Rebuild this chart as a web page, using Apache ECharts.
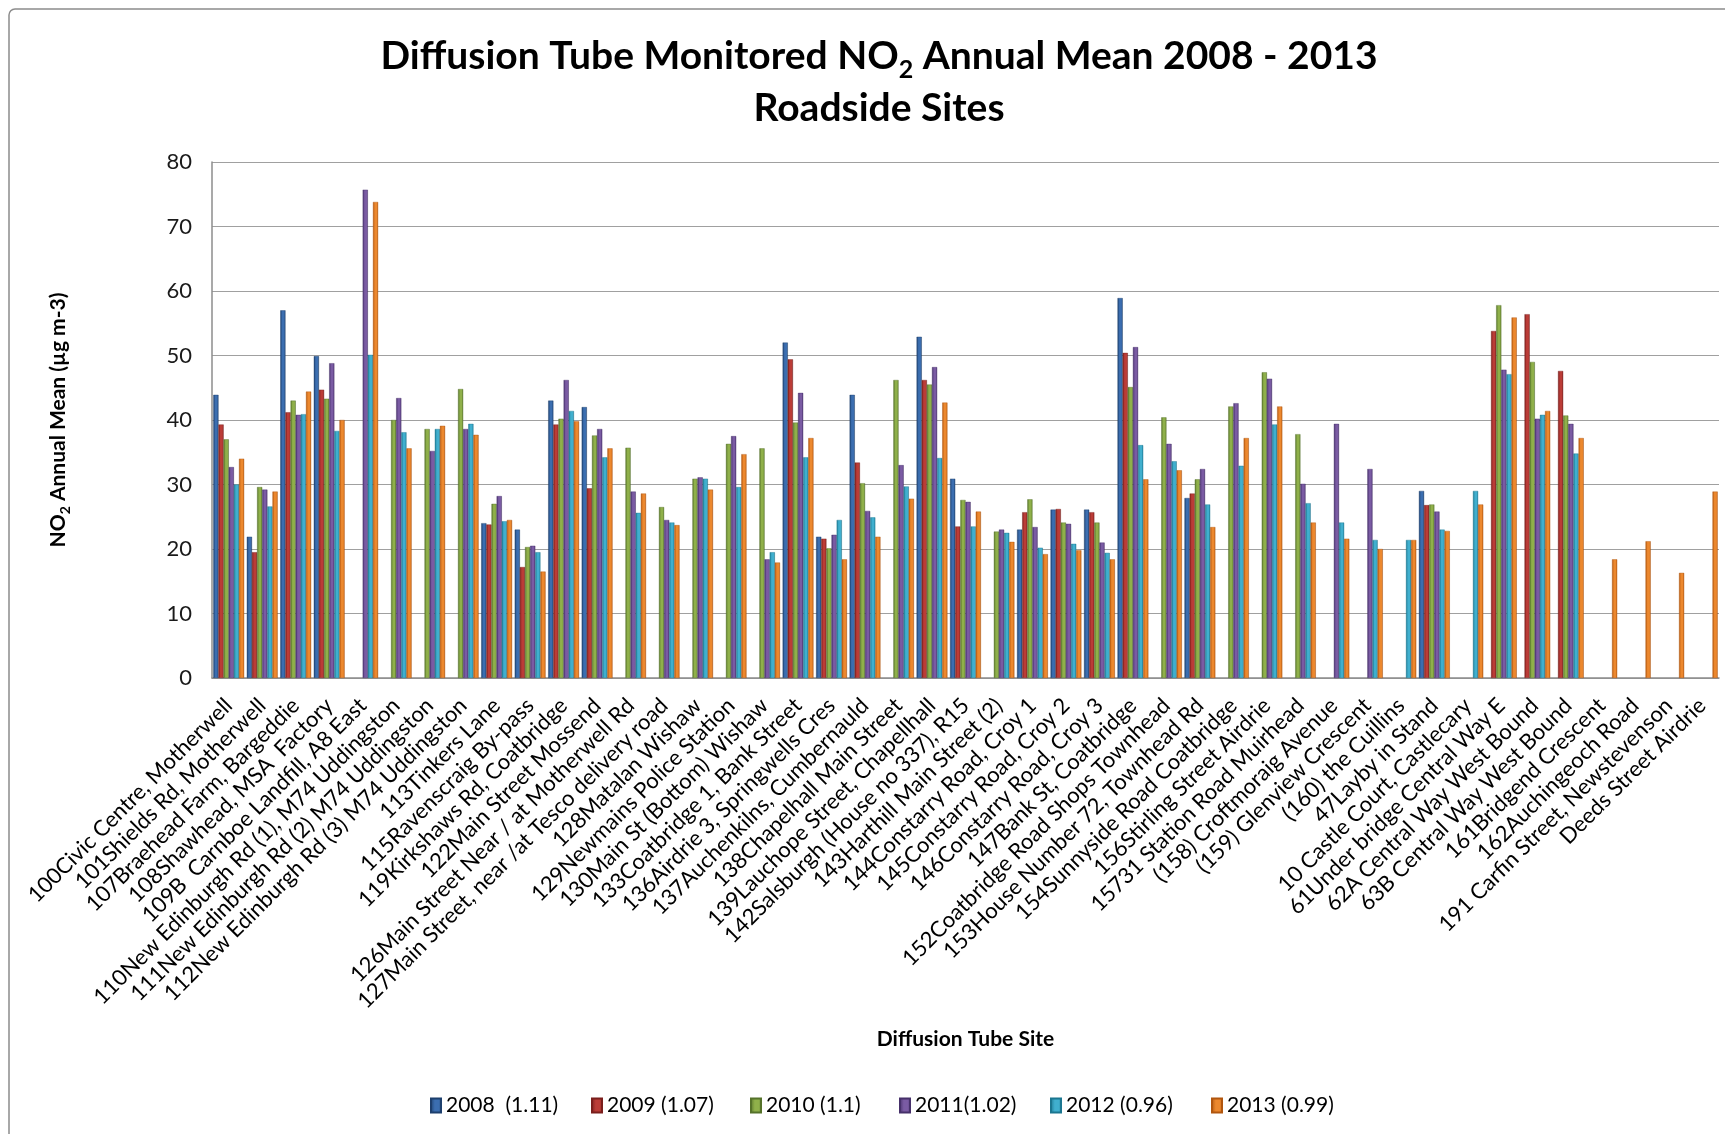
<!DOCTYPE html>
<html>
<head>
<meta charset="utf-8">
<script src="https://cdn.jsdelivr.net/npm/echarts@6/dist/echarts.min.js"></script>
<style>
  html, body { margin: 0; padding: 0; background: #fff; }
  #chart { width: 1725px; height: 1134px; }
</style>
</head>
<body>
<div id="chart"></div>
<script>
// Roadside diffusion tube sites
const categories = [
  '100Civic Centre, Motherwell',
  '101Shields Rd, Motherwell',
  '107Braehead Farm, Bargeddie',
  '108Shawhead, MSA  Factory',
  '109B  Carnboe Landfill, A8 East',
  '110New Edinburgh Rd (1), M74 Uddingston',
  '111New Edinburgh Rd (2) M74 Uddingston',
  '112New Edinburgh Rd (3) M74 Uddingston',
  '113Tinkers Lane',
  '115Ravenscraig By-pass',
  '119Kirkshaws Rd, Coatbridge',
  '122Main Street Mossend',
  '126Main Street Near / at Motherwell Rd',
  '127Main Street, near /at Tesco delivery road',
  '128Matalan Wishaw',
  '129Newmains Police Station',
  '130Main St (Bottom) Wishaw',
  '133Coatbridge 1, Bank Street',
  '136Airdrie 3, Springwells Cres',
  '137Auchenkilns, Cumbernauld',
  '138Chapelhall Main Street',
  '139Lauchope Street, Chapellhall',
  '142Salsburgh (House no 337), R15',
  '143Harthill Main Street (2)',
  '144Constarry Road, Croy 1',
  '145Constarry Road, Croy 2',
  '146Constarry Road, Croy 3',
  '147Bank St, Coatbridge',
  '152Coatbridge Road Shops Townhead',
  '153House Number 72, Townhead Rd',
  '154Sunnyside Road Coatbridge',
  '156Stirling Street Airdrie',
  '15731 Station Road Muirhead',
  '(158) Croftmoraig Avenue',
  '(159) Glenview Crescent',
  '(160) the Cuillins',
  '47Layby in Stand',
  '10 Castle Court, Castlecary',
  '61Under bridge Central Way E',
  '62A Central Way West Bound',
  '63B Central Way West Bound',
  '161Bridgend Crescent',
  '162Auchingeoch Road',
  '191 Carfin Street, Newstevenson',
  'Deeds Street Airdrie'
];

// Annual means (µg m-3), bias-adjusted; null = no measurement that year
const y2008 = [43.9, 21.9, 57.0, 49.9, null, null, null, null, 24.0, 23.0, 43.0, 42.0, null, null, null,
  null, null, 52.0, 21.9, 43.9, null, 52.9, 30.9, null, 23.0, 26.1, 26.1, 58.9, null, 27.9,
  null, null, null, null, null, null, 29.0, null, null, null, null, null, null, null, null];
const y2009 = [39.3, 19.5, 41.2, 44.7, null, null, null, null, 23.8, 17.2, 39.3, 29.4, null, null, null,
  null, null, 49.4, 21.6, 33.4, null, 46.2, 23.5, null, 25.7, 26.2, 25.7, 50.4, null, 28.6,
  null, null, null, null, null, null, 26.8, null, 53.8, 56.4, 47.6, null, null, null, null];
const y2010 = [37.0, 29.6, 43.0, 43.3, null, 40.0, 38.6, 44.8, 27.0, 20.3, 40.2, 37.6, 35.7, 26.5, 30.9,
  36.3, 35.6, 39.6, 20.1, 30.2, 46.2, 45.5, 27.6, 22.7, 27.7, 24.1, 24.1, 45.1, 40.4, 30.8,
  42.1, 47.4, 37.8, null, null, null, 26.9, null, 57.8, 49.0, 40.7, null, null, null, null];
const y2011 = [32.7, 29.2, 40.8, 48.8, 75.7, 43.4, 35.2, 38.6, 28.2, 20.5, 46.2, 38.6, 28.9, 24.5, 31.1,
  37.5, 18.4, 44.2, 22.2, 25.9, 33.0, 48.2, 27.3, 23.0, 23.4, 23.9, 21.0, 51.3, 36.3, 32.4,
  42.6, 46.4, 30.1, 39.4, 32.4, null, 25.8, null, 47.8, 40.2, 39.4, null, null, null, null];
const y2012 = [30.0, 26.6, 40.9, 38.3, 50.1, 38.1, 38.6, 39.4, 24.3, 19.5, 41.4, 34.2, 25.6, 24.1, 30.9,
  29.6, 19.5, 34.2, 24.5, 24.9, 29.7, 34.1, 23.5, 22.5, 20.2, 20.8, 19.4, 36.1, 33.6, 26.9,
  32.9, 39.3, 27.1, 24.1, 21.4, 21.4, 23.0, 29.0, 47.1, 40.8, 34.8, null, null, null, null];
const y2013 = [34.0, 28.9, 44.4, 40.0, 73.8, 35.6, 39.1, 37.7, 24.5, 16.5, 39.8, 35.6, 28.6, 23.7, 29.2,
  34.7, 17.9, 37.2, 18.4, 21.9, 27.8, 42.7, 25.8, 21.1, 19.2, 19.8, 18.4, 30.8, 32.2, 23.4,
  37.2, 42.1, 24.1, 21.6, 20.0, 21.4, 22.8, 26.9, 55.9, 41.4, 37.2, 18.4, 21.2, 16.3, 28.9];

const seriesNames = ['2008  (1.11)', '2009 (1.07)', '2010 (1.1)', '2011(1.02)', '2012 (0.96)', '2013 (0.99)'];
const seriesData = [y2008, y2009, y2010, y2011, y2012, y2013];

// [edge shade, highlight] for each year's bevelled bars
const shades = [
  ['#1d3f6d', '#3b6eb0'],
  ['#7a1e1c', '#bb3c37'],
  ['#55722a', '#8fb04a'],
  ['#46306a', '#7a5ba3'],
  ['#1b7690', '#40afce'],
  ['#b1560e', '#ec882e']
];
const legendX = [430, 591, 750, 899, 1050, 1211];

const FONT = 'Lato';

function barFill(pair) {
  return new echarts.graphic.LinearGradient(0, 0, 1, 0, [
    { offset: 0, color: pair[0] },
    { offset: 0.4, color: pair[1] },
    { offset: 0.75, color: pair[1] },
    { offset: 1, color: pair[0] }
  ]);
}

const chart = echarts.init(document.getElementById('chart'), null, { renderer: 'canvas' });

chart.setOption({
  backgroundColor: '#ffffff',
  animation: false,
  title: {
    left: 874,
    top: 25,
    textAlign: 'center',
    text: '{a|Diffusion Tube Monitored NO}{s|2}{a| Annual Mean 2008 - 2013}\n{a|Roadside Sites}',
    textStyle: {
      rich: {
        a: { fontFamily: FONT, fontWeight: 'bold', fontSize: 39, lineHeight: 52, color: '#000' },
        s: { fontFamily: FONT, fontWeight: 'bold', fontSize: 25, lineHeight: 30, verticalAlign: 'bottom', color: '#000' }
      }
    }
  },
  legend: seriesNames.map((name, i) => ({
    data: [name],
    left: legendX[i],
    top: 1095,
    padding: 0,
    itemWidth: 10,
    itemHeight: 14,
    itemGap: 6,
    icon: 'rect',
    selectedMode: false,
    textStyle: { fontFamily: FONT, fontSize: 21, color: '#000' }
  })),
  graphic: [{
    type: 'rect',
    shape: { x: 9, y: 9, width: 1800, height: 1300, r: 6 },
    style: { fill: 'none', stroke: '#8c8c8c', lineWidth: 1.5 },
    silent: true,
    z: -1
  }],
  grid: { left: 212, right: 6, top: 162, bottom: 456 },
  xAxis: {
    type: 'category',
    data: categories,
    name: 'Diffusion Tube Site',
    nameLocation: 'middle',
    nameGap: 351,
    nameTextStyle: { fontFamily: FONT, fontWeight: 'bold', fontSize: 21, color: '#000' },
    axisLine: { lineStyle: { color: '#8c8c8c', width: 1.5 } },
    axisTick: { show: false },
    axisLabel: {
      interval: 0,
      rotate: 45,
      fontFamily: FONT,
      fontSize: 22,
      color: '#000',
      margin: 24,
      padding: [37, 0, 0, 0]
    }
  },
  yAxis: {
    type: 'value',
    min: 0,
    max: 80,
    interval: 10,
    name: '{a|NO}{s|2}{a| Annual Mean (µg m-3)}',
    nameLocation: 'middle',
    nameRotate: 90,
    nameGap: 140,
    nameTextStyle: {
      rich: {
        a: { fontFamily: FONT, fontWeight: 'bold', fontSize: 21, lineHeight: 28, color: '#000' },
        s: { fontFamily: FONT, fontWeight: 'bold', fontSize: 14, lineHeight: 18, verticalAlign: 'bottom', color: '#000' }
      }
    },
    axisLine: { show: true, lineStyle: { color: '#8c8c8c', width: 1.5 } },
    axisTick: { show: false },
    axisLabel: { fontFamily: FONT, fontSize: 22, color: '#1a1a1a', margin: 20 },
    splitLine: { lineStyle: { color: '#a0a0a0', width: 1.2 } }
  },
  series: seriesNames.map((name, i) => ({
    name: name,
    type: 'bar',
    data: seriesData[i],
    barGap: '0%',
    barCategoryGap: '8%',
    itemStyle: { color: barFill(shades[i]), borderColor: shades[i][0], borderWidth: 0.4 }
  }))
});
</script>
</body>
</html>
